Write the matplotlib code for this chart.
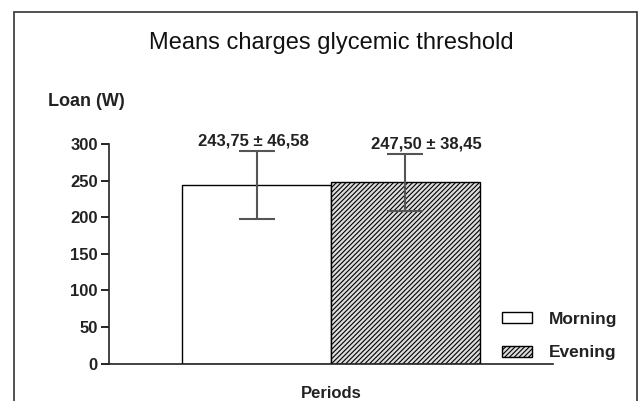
import matplotlib.pyplot as plt
from matplotlib.patches import Patch, Rectangle

plt.rcParams['font.family'] = ['Liberation Sans', 'DejaVu Sans']
plt.rcParams['hatch.linewidth'] = 0.8
plt.rcParams['hatch.color'] = '#7a7a7a'

periods = ['Morning', 'Evening']
means = [243.75, 247.50]
sds = [46.58, 38.45]
labels = ['243,75 ± 46,58', '247,50 ± 38,45']
yticks = [0, 50, 100, 150, 200, 250, 300]

fig = plt.figure(figsize=(6.39, 4.01), dpi=100)
ax = fig.add_axes([0.1706, 0.093, 0.6948, 0.5479])

faces = ['white', '#dcdcdc']
hatches = ['', '///////']
x = list(range(len(periods)))
for i in x:
    ax.bar(i, means[i], width=1.0, color=faces[i], edgecolor='black',
           linewidth=1.0, hatch=hatches[i], label=periods[i])
    ax.errorbar(i, means[i], yerr=sds[i], fmt='none', ecolor='#555555',
                elinewidth=1.5, capsize=13.3, capthick=1.5)

# value labels above bars
label_x = [-0.02, 1.14]
label_y = [304, 300]
for i in x:
    ax.text(label_x[i], label_y[i], labels[i], ha='center', va='center',
            fontsize=12, fontweight='bold', color='#222222', clip_on=False)

ax.set_xlim(-0.99, 1.99)
ax.set_ylim(0, 300)
ax.set_yticks(yticks)
ax.set_xticks([])
ax.tick_params(axis='y', direction='out', length=6, width=1.2,
               labelsize=12, pad=2, labelcolor='#222222')
for t in ax.get_yticklabels():
    t.set_fontweight('bold')
for s in ['top', 'right']:
    ax.spines[s].set_visible(False)
for s in ['left', 'bottom']:
    ax.spines[s].set_linewidth(1.2)
    ax.spines[s].set_color('#222222')

ax.set_xlabel('Periods', fontsize=12, fontweight='bold', labelpad=16,
              color='#222222')

fig.text(331 / 639, 1 - 43 / 401, 'Means charges glycemic threshold',
         ha='center', va='center', fontsize=17, color='#111111')
fig.text(48 / 639, 1 - 101 / 401, 'Loan (W)', ha='left', va='center',
         fontsize=13, fontweight='bold', color='#222222')

handles = [Patch(facecolor=faces[i], edgecolor='black', hatch=hatches[i],
                 label=periods[i]) for i in x]
leg = fig.legend(handles=handles, loc='upper left',
                 bbox_to_anchor=(502 / 639, 1 - 312 / 401), frameon=False,
                 borderpad=0, borderaxespad=0, handlelength=1.74,
                 handleheight=0.6, handletextpad=0.96, labelspacing=1.05,
                 prop={'size': 12.5, 'weight': 'bold'})
for t in leg.get_texts():
    t.set_color('#222222')

# outer frame
fig.patches.append(Rectangle((14 / 639, -0.05), (636.5 - 14) / 639,
                             1.05 - 12 / 401, transform=fig.transFigure,
                             fill=False, edgecolor='#333333', linewidth=1.2))

fig.savefig('out.png', dpi=100)
